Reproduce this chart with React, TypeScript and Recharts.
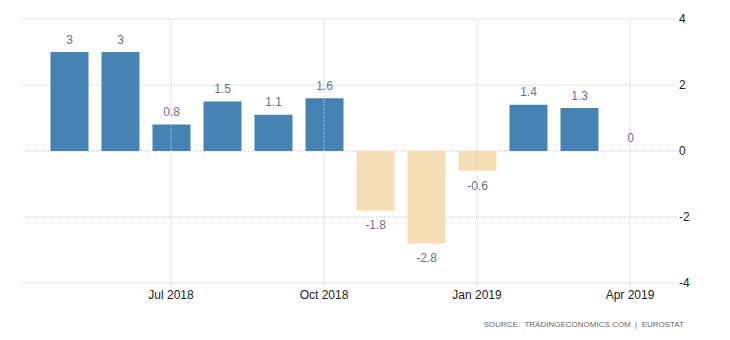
import { Bar, BarChart, CartesianGrid, Cell, LabelList, ReferenceLine, XAxis, YAxis } from 'recharts';

const months = [
  'May 2018', 'Jun 2018', 'Jul 2018', 'Aug 2018', 'Sep 2018', 'Oct 2018',
  'Nov 2018', 'Dec 2018', 'Jan 2019', 'Feb 2019', 'Mar 2019', 'Apr 2019',
];
const values = [3, 3, 0.8, 1.5, 1.1, 1.6, -1.8, -2.8, -0.6, 1.4, 1.3, 0];
const xTicks = ['Jul 2018', 'Oct 2018', 'Jan 2019', 'Apr 2019'];
const yTicks = [-4, -2, 0, 2, 4];

const data = months.map((month, i) => ({ month, value: values[i] }));

const UP = '#4682b4';
const DOWN = '#f5deb3';
const GRID = '#c8c8c8';
const FONT = '"Liberation Sans", Arial, sans-serif';

function ValueLabel(props: any) {
  const { x, y, width, height, value } = props;
  const top = Math.min(y, y + height);
  const bottom = Math.max(y, y + height);
  const cx = x + width / 2;
  const ty = value >= 0 ? top - 8.5 : bottom + 19;
  return (
    <text x={cx} y={ty} textAnchor="middle" fontSize={12} fontFamily={FONT} fill="#6e6e8c">
      {value}
    </text>
  );
}

export default function App() {
  return (
    <div style={{ position: 'absolute', left: 0, top: 0, width: 730, height: 340, background: '#fff' }}>
      <BarChart
        width={730}
        height={340}
        data={data}
        margin={{ top: 19, right: 0, bottom: 27, left: 22 }}
      >
        <CartesianGrid stroke={GRID} strokeDasharray="1 1" vertical={false} />
        {xTicks.map((t) => (
          <ReferenceLine key={t} x={t} stroke={GRID} strokeDasharray="1 1" />
        ))}
        <XAxis
          dataKey="month"
          ticks={xTicks}
          interval={0}
          height={30}
          padding={{ left: 21.5, right: 21.5 }}
          axisLine={false}
          tickSize={4}
          tickMargin={3}
          tickLine={{ stroke: GRID, strokeDasharray: '1 1' }}
          tick={{ fontSize: 12, fontFamily: FONT, fill: '#222' }}
        />
        <YAxis
          orientation="right"
          domain={[-4, 4]}
          ticks={yTicks}
          width={53}
          axisLine={false}
          tickLine={false}
          tickSize={0}
          tickMargin={2}
          tick={{ fontSize: 12, fontFamily: FONT, fill: '#222', textAnchor: 'start' }}
        />
        <Bar dataKey="value" barSize={38} minPointSize={1} isAnimationActive={false}>
          {data.map((d) => (
            <Cell key={d.month} fill={d.value > 0 ? UP : d.value < 0 ? DOWN : 'none'} />
          ))}
          <LabelList dataKey="value" content={<ValueLabel />} />
        </Bar>
      </BarChart>
      <div
        style={{
          position: 'absolute',
          left: 0,
          width: 684,
          top: 320,
          textAlign: 'right',
          fontFamily: FONT,
          fontSize: 8,
          color: '#666',
          whiteSpace: 'pre',
        }}
      >
        {'SOURCE:  TRADINGECONOMICS.COM  |  EUROSTAT'}
      </div>
    </div>
  );
}
